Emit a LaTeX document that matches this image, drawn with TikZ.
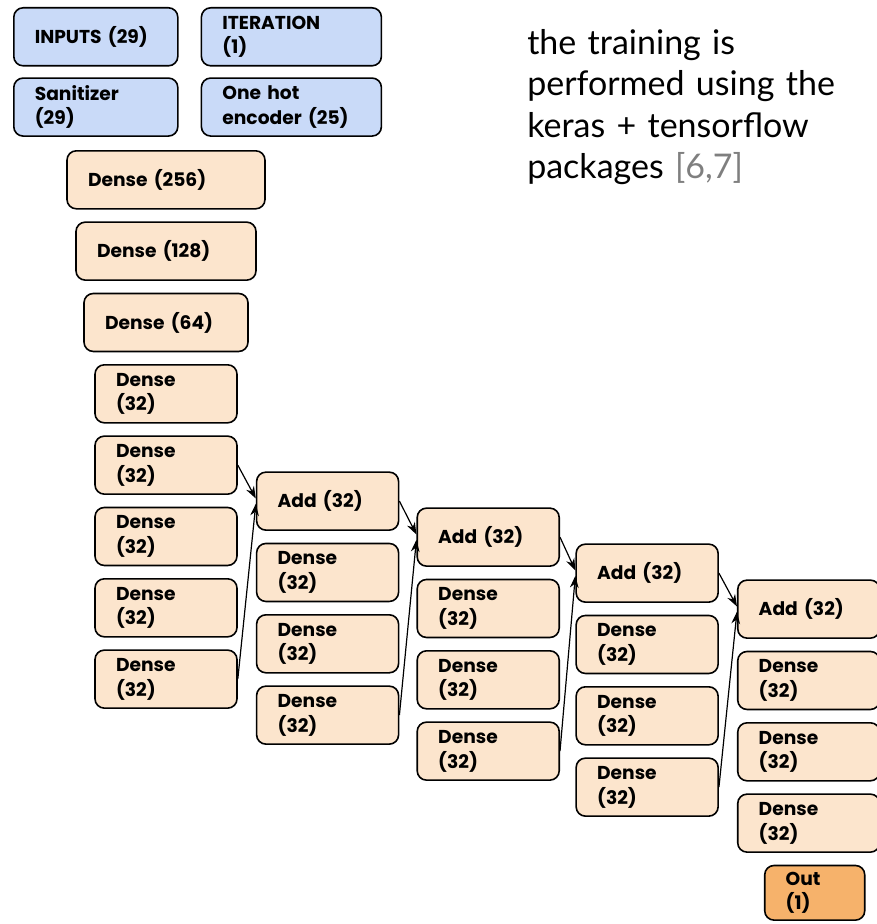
\documentclass[tikz,border=0pt]{standalone}
\usepackage{fontspec}
\usepackage{tikz}
\usetikzlibrary{shapes,
                arrows,
                arrows.meta,
                positioning}
\newfontfamily\boxfont{Poppins}
\newfontfamily\notefont{Lato}
\definecolor{inblue}{HTML}{C9DAF8}
\definecolor{peach}{HTML}{FCE5CD}
\definecolor{outorange}{HTML}{F6B26B}
\definecolor{citegray}{HTML}{7F7F7F}
\tikzstyle{block} = [rectangle, rounded corners=7pt, draw=black, line width=1.2pt, minimum height=43.5pt, inner xsep=15.75pt, inner ysep=0pt, align=left, font=\boxfont\bfseries\fontsize{14}{18.4}\selectfont]
\tikzstyle{inbox} = [block, fill=inblue, text width=91.5pt]
\tikzstyle{layer} = [block, fill=peach, text width=75pt]
\tikzstyle{outbox} = [block, fill=outorange, text width=43.5pt, minimum height=41pt]
\tikzstyle{arrow} = [line width=0.9pt,-{Stealth[length=9pt,width=6.5pt]}]
\begin{document}
\begin{tikzpicture}[node distance=8.8pt]
        \useasboundingbox (0,0) rectangle (657.75pt,-693pt);
        % inputs
        \node (inputs) [inbox, anchor=north west] at (9.75pt,-5.25pt) {INPUTS (29)};
        \node (iteration) [inbox, text width=103.5pt, right=16.5pt of inputs] {ITERATION\\(1)};
        \node (sanitizer) [inbox, below=8pt of inputs] {Sanitizer\\(29)};
        \node (onehot) [inbox, text width=103.5pt, below=8pt of iteration] {One hot\\encoder (25)};
        % dense stack
        \node (dense256) [layer, text width=117pt, anchor=north] at (124.5pt,-112.5pt) {Dense (256)};
        \node (dense128) [layer, text width=103.5pt, below=of dense256] {Dense (128)};
        \node (dense64) [layer, text width=91.5pt, below=of dense128] {Dense (64)};
        \node (d32a) [layer, below=of dense64] {Dense\\(32)};
        \node (d32b) [layer, below=of d32a] {Dense\\(32)};
        \node (d32c) [layer, below=of d32b] {Dense\\(32)};
        \node (d32d) [layer, below=of d32c] {Dense\\(32)};
        \node (d32e) [layer, below=of d32d] {Dense\\(32)};
        % residual blocks
        \node (add1) [layer, right=13.5pt of d32b, yshift=-27pt] {Add (32)};
        \node (d1a) [layer, below=of add1] {Dense\\(32)};
        \node (d1b) [layer, below=of d1a] {Dense\\(32)};
        \node (d1c) [layer, below=of d1b] {Dense\\(32)};
        \node (add2) [layer, right=12.75pt of add1, yshift=-27pt] {Add (32)};
        \node (d2a) [layer, below=of add2] {Dense\\(32)};
        \node (d2b) [layer, below=of d2a] {Dense\\(32)};
        \node (d2c) [layer, below=of d2b] {Dense\\(32)};
        \node (add3) [layer, right=11.5pt of add2, yshift=-27pt] {Add (32)};
        \node (d3a) [layer, below=of add3] {Dense\\(32)};
        \node (d3b) [layer, below=of d3a] {Dense\\(32)};
        \node (d3c) [layer, below=of d3b] {Dense\\(32)};
        \node (add4) [layer, right=13.5pt of add3, yshift=-27pt] {Add (32)};
        \node (d4a) [layer, below=of add4] {Dense\\(32)};
        \node (d4b) [layer, below=of d4a] {Dense\\(32)};
        \node (d4c) [layer, below=of d4b] {Dense\\(32)};
        \node (out) [outbox, below=of d4c, xshift=4.5pt] {Out\\(1)};
        \draw [arrow] (d32b.east) -- ([yshift=2pt]add1.west);
        \draw [arrow] (d32e.east) -- ([yshift=-2pt]add1.west);
        \draw [arrow] (add1.east) -- ([yshift=2pt]add2.west);
        \draw [arrow] (d1c.east) -- ([yshift=-2pt]add2.west);
        \draw [arrow] (add2.east) -- ([yshift=2pt]add3.west);
        \draw [arrow] (d2c.east) -- ([yshift=-2pt]add3.west);
        \draw [arrow] (add3.east) -- ([yshift=2pt]add4.west);
        \draw [arrow] (d3c.east) -- ([yshift=-2pt]add4.west);
        % note
        \node (note) [anchor=north west, inner sep=0pt, text width=262pt, align=left, font=\notefont\fontsize{25.5}{31}\selectfont] at (395.25pt,-22pt) {the training is\\performed using the\\keras + tensorflow\\packages {\color{citegray}[6,7]}};
\end{tikzpicture}
\end{document}
